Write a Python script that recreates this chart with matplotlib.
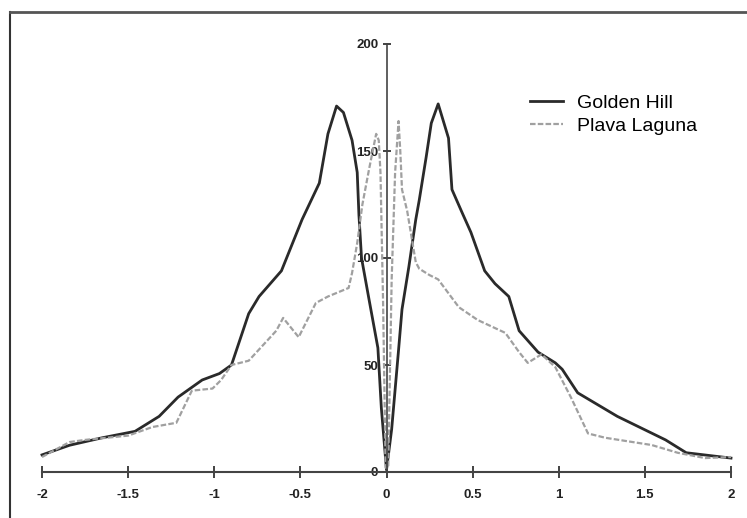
import matplotlib
matplotlib.use("Agg")
import matplotlib.pyplot as plt
from matplotlib.lines import Line2D

# values
golden_x = [-2.0, -1.84, -1.65, -1.46, -1.32, -1.21, -1.07, -0.97, -0.9, -0.8,
            -0.74, -0.61, -0.49, -0.39, -0.34, -0.29, -0.25, -0.2, -0.17, -0.16,
            -0.145, -0.1, -0.05, -0.03, 0.0, 0.03, 0.07, 0.09, 0.13, 0.17,
            0.19, 0.23, 0.26, 0.30, 0.36, 0.38, 0.44, 0.49, 0.57, 0.63,
            0.71, 0.77, 0.88, 0.98, 1.02, 1.11, 1.34, 1.62, 1.74, 2.0]
golden_y = [8, 12.5, 16, 19, 26, 35, 43, 46, 50, 74,
            82, 94, 118, 135, 158, 171, 168, 155, 140, 120,
            100, 80, 58, 30, 1, 20, 57, 76, 96, 118,
            127, 147, 163, 172, 156, 132, 121, 112, 94, 88,
            82, 66, 56, 51, 48, 37, 26, 15, 9, 6.5]

plava_x = [-2.0, -1.84, -1.75, -1.5, -1.36, -1.22, -1.13, -1.01, -0.96, -0.9,
           -0.8, -0.64, -0.6, -0.51, -0.41, -0.34, -0.22, -0.2, -0.17, -0.14,
           -0.1, -0.06, -0.045, -0.035, -0.02, -0.005, 0.01, 0.03, 0.05, 0.07,
           0.08, 0.09, 0.12, 0.17, 0.19, 0.25, 0.3, 0.42, 0.53, 0.69,
           0.77, 0.82, 0.9, 0.98, 1.07, 1.17, 1.27, 1.54, 1.69, 1.85, 2.0]
plava_y = [7, 14, 15, 17, 21, 23, 38, 39, 43, 50,
           52, 66, 72, 63, 79, 82, 86, 93, 107, 125,
           142, 158, 155, 140, 80, 2, 2, 90, 140, 164,
           150, 132, 122, 98, 95, 92, 90, 77, 71, 65,
           56, 51, 55, 49, 35, 18, 16, 12.6, 9, 6.5, 7]

x_ticks = [-2, -1.5, -1, -0.5, 0, 0.5, 1, 1.5, 2]
x_labels = ["-2", "-1.5", "-1", "-0.5", "0", "0.5", "1", "1.5", "2"]
y_ticks = [0, 50, 100, 150, 200]

W, H = 747, 518
fig = plt.figure(figsize=(W / 100, H / 100), dpi=100)
ax = fig.add_axes([42 / W, (H - 472) / H, (731 - 42) / W, (472 - 44) / H])
ax.set_xlim(-2, 2)
ax.set_ylim(0, 200)

ax.plot(golden_x, golden_y, color="#2a2a2a", lw=2.0, label="Golden Hill",
        clip_on=False, solid_joinstyle="round")
ax.plot(plava_x, plava_y, color="#a0a0a0", lw=1.6, ls=(0, (2.5, 1)),
        label="Plava Laguna", clip_on=False)

# axes crossing at origin
for s in ["top", "right"]:
    ax.spines[s].set_visible(False)
ax.spines["left"].set_position(("data", 0))
ax.spines["bottom"].set_position(("data", 0))
ax.spines["left"].set_color("#444444")
ax.spines["bottom"].set_color("#444444")
ax.spines["left"].set_linewidth(1.2)
ax.spines["bottom"].set_linewidth(1.5)

tick_font = dict(family=["Liberation Sans Narrow", "Liberation Sans", "DejaVu Sans"],
                 weight="bold", size=9.5)
ax.set_xticks(x_ticks)
ax.set_xticklabels(x_labels, **tick_font)
ax.set_yticks(y_ticks)
ax.set_yticklabels([str(v) for v in y_ticks], **tick_font)
ax.tick_params(axis="x", direction="inout", length=8, width=1.2, pad=8, colors="#222222")
ax.tick_params(axis="y", direction="inout", length=6, width=1.2, pad=3, colors="#222222")
ax.set_facecolor("none")

fig.legend(loc="upper left", bbox_to_anchor=(512 / W, 1 - 77 / H), frameon=False,
           prop={"family": ["Liberation Sans", "DejaVu Sans"], "size": 14},
           handlelength=1.7, handletextpad=0.75, labelspacing=0.25)

# outer frame (left and top edges of the original picture)
fig.add_artist(Line2D([10 / W, 10 / W], [0, 1 - 12 / H], transform=fig.transFigure,
                      color="#333333", lw=1.5))
fig.add_artist(Line2D([10 / W, 1], [1 - 12 / H, 1 - 12 / H], transform=fig.transFigure,
                      color="#555555", lw=2))

fig.savefig("out.png", dpi=100)
